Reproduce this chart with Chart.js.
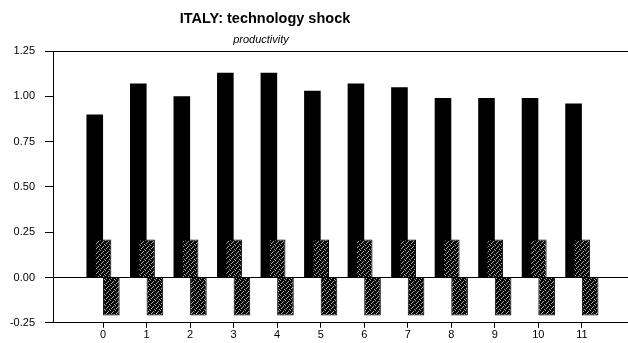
<!DOCTYPE html>
<html lang="en">
<head>
<meta charset="UTF-8" />
<title>ITALY: technology shock</title>
<script src="https://cdn.jsdelivr.net/npm/chart.js"></script>
<style>
  html, body { margin: 0; padding: 0; background: #fff; }
</style>
</head>
<body>
<canvas id="chart" width="628" height="343"></canvas>
<script>
  const chartTitle = 'ITALY: technology shock';
  const chartSubtitle = 'productivity';

  const periods = [0, 1, 2, 3, 4, 5, 6, 7, 8, 9, 10, 11];
  const productivity = [0.90, 1.07, 1.00, 1.13, 1.13, 1.03, 1.07, 1.05, 0.99, 0.99, 0.99, 0.96];
  const upperBand = [0.21, 0.21, 0.21, 0.21, 0.21, 0.21, 0.21, 0.21, 0.21, 0.21, 0.21, 0.21];
  const lowerBand = [-0.21, -0.21, -0.21, -0.21, -0.21, -0.21, -0.21, -0.21, -0.21, -0.21, -0.21, -0.21];
  const yTicks = [-0.25, 0, 0.25, 0.5, 0.75, 1, 1.25];

  Chart.defaults.font.family = '"Liberation Sans", Arial, sans-serif';
  Chart.defaults.color = '#000';

  // near-black fill with sparse grey specks for the band bars
  function speckle() {
    const c = document.createElement('canvas');
    c.width = 5; c.height = 5;
    const g = c.getContext('2d');
    g.fillStyle = '#080808';
    g.fillRect(0, 0, 5, 5);
    g.fillStyle = '#a8a8a8';
    [[0, 0], [3, 1], [1, 3], [4, 4], [2, 2]].forEach(([x, y]) => g.fillRect(x, y, 1, 1));
    return g.createPattern(c, 'repeat');
  }
  const bandFill = speckle();

  // later datasets are painted over earlier ones
  const paintInOrder = {
    id: 'paintInOrder',
    beforeDatasetsDraw(chart) {
      chart.getSortedVisibleDatasetMetas().forEach(meta => meta.controller.draw());
      return false;
    }
  };

  const headings = {
    id: 'headings',
    afterDraw(chart) {
      const ctx = chart.ctx;
      ctx.save();
      ctx.fillStyle = '#000';
      ctx.textAlign = 'center';
      ctx.textBaseline = 'middle';
      ctx.font = 'bold 14.5px "Liberation Sans", Arial, sans-serif';
      ctx.fillText(chartTitle, 265, 19);
      ctx.font = 'italic 11px "Liberation Sans", Arial, sans-serif';
      ctx.fillText(chartSubtitle, 261, 40);
      ctx.restore();
    }
  };

  new Chart(document.getElementById('chart'), {
    type: 'bar',
    data: {
      labels: periods,
      datasets: [
        { label: 'productivity', data: productivity, backgroundColor: '#000', borderWidth: 0 },
        { label: 'upper', data: upperBand, backgroundColor: bandFill, borderColor: '#000', borderWidth: 1 },
        { label: 'lower', data: lowerBand, backgroundColor: bandFill, borderColor: '#000', borderWidth: 1 }
      ]
    },
    options: {
      responsive: false,
      animation: false,
      layout: { padding: { top: 51, right: 0, bottom: 0, left: 0 } },
      datasets: { bar: { categoryPercentage: 0.572, barPercentage: 2.0 } },
      plugins: { legend: { display: false }, tooltip: { enabled: false } },
      scales: {
        x: {
          type: 'linear',
          min: -1.15,
          max: 12.06,
          offset: false,
          afterBuildTicks: axis => { axis.ticks = periods.map(v => ({ value: v })); },
          grid: { offset: false, drawOnChartArea: false, tickLength: 5, color: '#000' },
          border: { color: '#000' },
          ticks: { padding: 1, font: { size: 11 }, maxRotation: 0, autoSkip: false, callback: v => String(v) }
        },
        y: {
          min: -0.25,
          max: 1.25,
          afterBuildTicks: axis => { axis.ticks = yTicks.map(v => ({ value: v })); },
          afterFit: axis => { axis.width = 53; },
          grid: {
            color: ctx => (ctx.tick && (ctx.tick.value === 0 || ctx.tick.value === 1.25)) ? '#000' : 'rgba(0,0,0,0)',
            tickColor: '#000',
            tickLength: 8
          },
          border: { color: '#000' },
          ticks: { padding: 10, font: { size: 11 }, callback: v => v.toFixed(2) }
        }
      }
    },
    plugins: [paintInOrder, headings]
  });
</script>
</body>
</html>
